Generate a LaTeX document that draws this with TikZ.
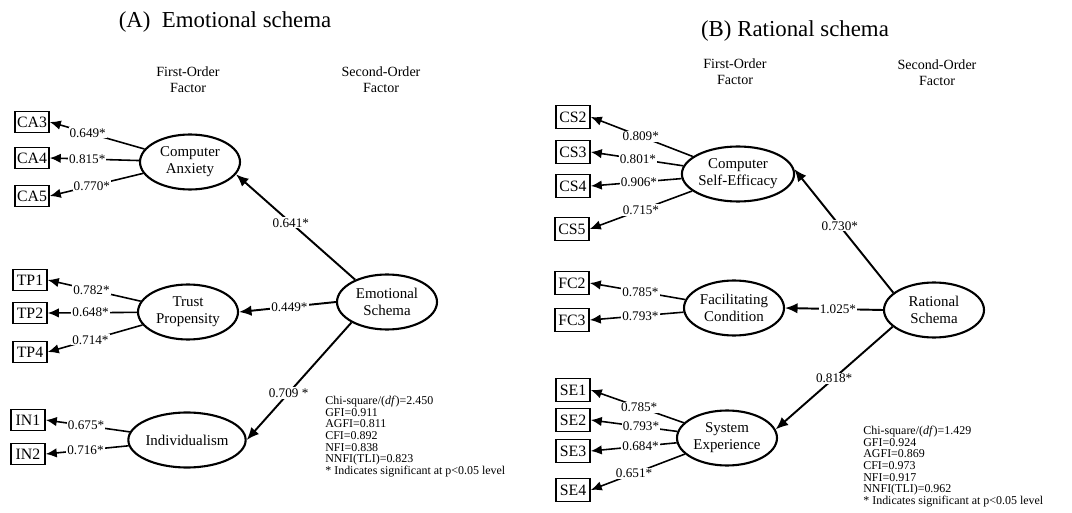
\documentclass[tikz,border=0pt]{standalone}
\usepackage{fontspec}
\setmainfont{Liberation Serif}
\usetikzlibrary{arrows.meta,shapes.geometric}

\begin{document}
\begin{tikzpicture}[x=0.02cm, y=-0.02cm,
    indicator/.style={rectangle, draw, line width=0.9pt, minimum width=0.68cm,
        minimum height=0.42cm, inner sep=1pt, font=\fontsize{9}{10}\selectfont},
    tallindicator/.style={indicator, minimum height=0.46cm},
    factor/.style={ellipse, draw, line width=1.2pt, minimum width=2cm,
        minimum height=1.1cm, inner sep=0pt, align=center,
        font=\fontsize{8.5}{9.6}\selectfont},
    heading/.style={align=center, font=\fontsize{8}{9}\selectfont},
    panel/.style={font=\fontsize{13}{15}\selectfont},
    loading/.style={-{Latex[length=2.2mm,width=1.9mm]}, line width=0.9pt},
    secondorder/.style={-{Latex[length=2.5mm,width=2.1mm]}, line width=1.1pt},
    coef/.style={fill=white, inner sep=0.6pt, font=\fontsize{7.5}{8}\selectfont},
    fitindex/.style={align=left, anchor=north west, inner sep=0pt,
        font=\fontsize{6.8}{6.6}\selectfont}
]
\useasboundingbox (0,0) rectangle (1072,513);

\node[panel] (TitleA) at (225,22) {(A)~~Emotional schema};
\node[heading] (FirstA) at (188,80) {First-Order\\Factor};
\node[heading] (SecondA) at (381,80) {Second-Order\\Factor};

\node[factor] (CompAnx) at (190,162) {Computer\\Anxiety};
\node[factor] (TrustProp) at (188,312) {Trust\\Propensity};
\node[factor] (Indiv) at (187,440) {Individualism};
\node[factor] (EmoSchema) at (387,302) {Emotional\\Schema};

\node[indicator] (CA3) at (32,122) {CA3};
\node[indicator] (CA4) at (32,158) {CA4};
\node[indicator] (CA5) at (32,196) {CA5};
\node[indicator] (TP1) at (30,280) {TP1};
\node[indicator] (TP2) at (30,313) {TP2};
\node[indicator] (TP4) at (30,352) {TP4};
\node[indicator] (IN1) at (28,420) {IN1};
\node[indicator] (IN2) at (28,454) {IN2};

\draw[loading] (CompAnx) -- node[coef, pos=0.6] {0.649*} (CA3.east);
\draw[loading] (CompAnx) -- node[coef, pos=0.58] {0.815*} (CA4.east);
\draw[loading] (CompAnx) -- node[coef, pos=0.55] {0.770*} (CA5.east);
\draw[loading] (TrustProp) -- node[coef, pos=0.53] {0.782*} (TP1.east);
\draw[loading] (TrustProp) -- node[coef, pos=0.52] {0.648*} (TP2.east);
\draw[loading] (TrustProp) -- node[coef, pos=0.55] {0.714*} (TP4.east);
\draw[loading] (Indiv) -- node[coef, pos=0.52] {0.675*} (IN1.east);
\draw[loading] (Indiv) -- node[coef, pos=0.52] {0.716*} (IN2.east);

\draw[secondorder] (EmoSchema.145) -- node[coef, pos=0.54] {0.641*} (CompAnx.-15);
\draw[secondorder] (EmoSchema.west) -- node[coef, pos=0.48] {0.449*} (TrustProp.east);
\draw[secondorder] (EmoSchema.210) -- node[coef, pos=0.6] {0.709 *} (Indiv.east);

\node[fitindex] (FitA) at (325,396) {Chi-square/(\textit{df})=2.450\\GFI=0.911\\AGFI=0.811\\CFI=0.892\\NFI=0.838\\NNFI(TLI)=0.823\\* Indicates significant at p<0.05 level};

\node[panel] (TitleB) at (795,31) {(B) Rational schema};
\node[heading] (FirstB) at (735,72) {First-Order\\Factor};
\node[heading] (SecondB) at (937,73) {Second-Order\\Factor};

\node[factor] (SelfEff) at (738,174) {Computer\\Self-Efficacy};
\node[factor] (FacCond) at (734,308) {Facilitating\\Condition};
\node[factor] (SysExp) at (727,438) {System\\Experience};
\node[factor] (RatSchema) at (934,310) {Rational\\Schema};

\node[tallindicator] (CS2) at (573,117) {CS2};
\node[tallindicator] (CS3) at (573,152) {CS3};
\node[tallindicator] (CS4) at (573,186) {CS4};
\node[tallindicator] (CS5) at (572,229) {CS5};
\node[tallindicator] (FC2) at (572,283) {FC2};
\node[tallindicator] (FC3) at (572,320) {FC3};
\node[tallindicator] (SE1) at (573,390) {SE1};
\node[tallindicator] (SE2) at (573,420) {SE2};
\node[tallindicator] (SE3) at (573,451) {SE3};
\node[tallindicator] (SE4) at (573,490) {SE4};

\draw[loading] (SelfEff) -- node[coef, pos=0.51] {0.809*} (CS2.east);
\draw[loading] (SelfEff) -- node[coef, pos=0.49] {0.801*} (CS3.east);
\draw[loading] (SelfEff) -- node[coef, pos=0.47] {0.906*} (CS4.east);
\draw[loading] (SelfEff) -- node[coef, pos=0.5] {0.715*} (CS5.east);
\draw[loading] (FacCond) -- node[coef, pos=0.47] {0.785*} (FC2.east);
\draw[loading] (FacCond) -- node[coef, pos=0.46] {0.793*} (FC3.east);
\draw[loading] (SysExp) -- node[coef, pos=0.48] {0.785*} (SE1.east);
\draw[loading] (SysExp) -- node[coef, pos=0.42] {0.793*} (SE2.east);
\draw[loading] (SysExp) -- node[coef, pos=0.42] {0.684*} (SE3.east);
\draw[loading] (SysExp) -- node[coef, pos=0.54] {0.651*} (SE4.east);

\draw[secondorder] (RatSchema.157) -- node[coef, pos=0.54] {0.730*} (SelfEff.5);
\draw[secondorder] (RatSchema.west) -- node[coef, pos=0.46] {1.025*} (FacCond.east);
\draw[secondorder] (RatSchema.-158) -- node[coef, pos=0.5] {0.818*} (SysExp.10);

\node[fitindex] (FitB) at (863,426) {Chi-square/(\textit{df})=1.429\\GFI=0.924\\AGFI=0.869\\CFI=0.973\\NFI=0.917\\NNFI(TLI)=0.962\\* Indicates significant at p<0.05 level};
\end{tikzpicture}
\end{document}
